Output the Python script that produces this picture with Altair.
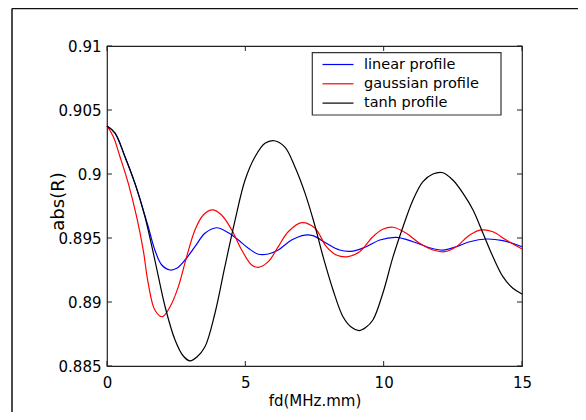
import altair as alt
import pandas as pd

# ---- data ----
tanh_fd = [0, 0.29, 0.65, 1.01, 1.37, 1.73, 2.10, 2.46, 2.75, 3.0, 3.25, 3.54, 3.90, 4.26, 4.63,
           4.99, 5.35, 5.71, 6.05, 6.43, 6.79, 7.16, 7.49, 7.81, 8.17, 8.53, 8.85, 9.11, 9.35,
           9.61, 9.97, 10.34, 10.70, 11.06, 11.42, 11.78, 12.14, 12.50, 12.87, 13.23, 13.59,
           13.95, 14.31, 14.67, 15.0]
tanh_v = [0.90375, 0.9032, 0.90135, 0.89927, 0.89667, 0.89328, 0.88963, 0.88703, 0.8858, 0.8854,
          0.8857, 0.8865, 0.8891, 0.89276, 0.8964, 0.89953, 0.90135, 0.9024, 0.9026, 0.9021,
          0.90057, 0.89849, 0.89615, 0.89354, 0.89094, 0.88885, 0.8880, 0.88776, 0.8880,
          0.88859, 0.89068, 0.89354, 0.89588, 0.89797, 0.8994, 0.9000, 0.9001, 0.89953,
          0.89849, 0.89719, 0.89537, 0.89354, 0.89198, 0.89107, 0.89063]

lin_fd = [0, 0.29, 0.65, 1.01, 1.13, 1.49, 1.73, 1.98, 2.28, 2.52, 2.82, 3.18, 3.54, 3.96, 4.39,
          4.75, 5.11, 5.47, 5.83, 6.19, 6.67, 7.16, 7.44, 7.93, 8.41, 8.89, 9.37, 9.86, 10.46,
          11.06, 11.66, 12.14, 12.62, 13.11, 13.71, 14.31, 15.0]
lin_v = [0.90375, 0.9032, 0.90135, 0.89927, 0.89849, 0.89588, 0.89406, 0.89289, 0.8925, 0.89263,
         0.89328, 0.89432, 0.89537, 0.8958, 0.89541, 0.89484, 0.8942, 0.89373, 0.89375, 0.89406,
         0.89484, 0.89523, 0.89518, 0.89459, 0.89406, 0.89398, 0.89432, 0.89484, 0.89505,
         0.89471, 0.89424, 0.89406, 0.89432, 0.89471, 0.89492, 0.89479, 0.89432]

gau_fd = [0, 0.23, 0.47, 0.77, 1.07, 1.31, 1.49, 1.73, 2.0, 2.28, 2.58, 2.88, 3.18, 3.48, 3.81,
          4.14, 4.51, 4.87, 5.23, 5.47, 5.83, 6.19, 6.55, 7.04, 7.52, 7.93, 8.29, 8.71, 9.13,
          9.61, 9.97, 10.34, 10.82, 11.30, 11.78, 12.2, 12.62, 13.11, 13.53, 13.95, 14.43, 15.0]
gau_v = [0.90375, 0.90291, 0.90135, 0.89927, 0.89667, 0.89406, 0.89146, 0.88938, 0.88885,
         0.88963, 0.8912, 0.89354, 0.89563, 0.8968, 0.89719, 0.8968, 0.89563, 0.89406, 0.89289,
         0.89271, 0.89315, 0.89432, 0.89549, 0.8962, 0.89576, 0.89432, 0.89367, 0.89354,
         0.89393, 0.8951, 0.89568, 0.89584, 0.89537, 0.89459, 0.89406, 0.89393, 0.89432,
         0.89523, 0.89563, 0.89549, 0.89484, 0.89414]

series_names = ["linear profile", "gaussian profile", "tanh profile"]
series_colors = ["#0000ff", "#ff0000", "#000000"]
x_ticks = [0, 5, 10, 15]
y_ticks = [0.885, 0.89, 0.895, 0.9, 0.905, 0.91]

W, H = 415, 320
FONT = "DejaVu Sans"

rows = []
for name, xs, ys in [("linear profile", lin_fd, lin_v),
                     ("gaussian profile", gau_fd, gau_v),
                     ("tanh profile", tanh_fd, tanh_v)]:
    for i, (a, b) in enumerate(zip(xs, ys)):
        rows.append({"fd": a, "v": b, "series": name, "order": i})
df = pd.DataFrame(rows)
xt = pd.DataFrame({"fd": x_ticks})
yt = pd.DataFrame({"v": y_ticks})

xscale = alt.Scale(domain=[0, 15], nice=False, zero=False)
yscale = alt.Scale(domain=[0.885, 0.91], nice=False, zero=False)

xaxis = alt.Axis(values=x_ticks, title="fd(MHz.mm)", ticks=False, domain=False,
                 grid=False, labelPadding=9, labelFlush=False, labelFont=FONT,
                 labelFontSize=15, labelColor="#000", titleFont=FONT, titleFontSize=15,
                 titleFontWeight="normal", titleColor="#000", titleY=27,
                 titleBaseline="top")
yaxis = alt.Axis(values=y_ticks, format="~g", title="abs(R)", ticks=False,
                 domain=False, grid=False, labelPadding=6, labelFlush=False, labelFont=FONT,
                 labelFontSize=15, labelColor="#000", titleFont=FONT,
                 titleFontSize=18, titleFontWeight="normal", titleColor="#000",
                 titleX=-40, titleY=155)

lines = alt.Chart(df).mark_line(strokeWidth=1.2, interpolate="catmull-rom").encode(
    x=alt.X("fd:Q", scale=xscale, axis=xaxis),
    y=alt.Y("v:Q", scale=yscale, axis=yaxis),
    color=alt.Color("series:N",
                    scale=alt.Scale(domain=series_names, range=series_colors),
                    legend=alt.Legend(title=None, orient="none", legendX=222.5, legendY=10,
                                      symbolType="M-2,0L2,0", symbolSize=240,
                                      symbolStrokeWidth=1.2, labelFont=FONT,
                                      labelFontSize=14.5, labelColor="#000", labelOffset=17.5,
                                      rowPadding=4.3, padding=0)),
    order="order:Q",
)

xt_bottom = alt.Chart(xt).mark_rule(color="#222").encode(
    x=alt.X("fd:Q", scale=xscale, axis=xaxis), y=alt.value(H), y2=alt.value(H - 5))
xt_top = alt.Chart(xt).mark_rule(color="#222").encode(
    x=alt.X("fd:Q", scale=xscale, axis=xaxis), y=alt.value(0), y2=alt.value(5))
yt_left = alt.Chart(yt).mark_rule(color="#222").encode(
    y=alt.Y("v:Q", scale=yscale, axis=yaxis), x=alt.value(0), x2=alt.value(5))
yt_right = alt.Chart(yt).mark_rule(color="#222").encode(
    y=alt.Y("v:Q", scale=yscale, axis=yaxis), x=alt.value(W), x2=alt.value(W - 5))

legend_box = alt.Chart(pd.DataFrame({"a": [0]})).mark_rect(
    fill="white", stroke="#333", strokeWidth=1.2).encode(
    x=alt.value(205.3), x2=alt.value(394), y=alt.value(6.7), y2=alt.value(69))

# outer figure frame: only its top and left edges fall inside the picture
frame_top = alt.Chart(pd.DataFrame({"a": [0]})).mark_rule(
    color="#111", strokeWidth=1.5).encode(
    x=alt.value(-95), x2=alt.value(490), y=alt.value(-37.5))
frame_left = alt.Chart(pd.DataFrame({"a": [0]})).mark_rule(
    color="#111", strokeWidth=1.5).encode(
    x=alt.value(-95), y=alt.value(-37.5), y2=alt.value(380))

chart = alt.layer(lines, frame_top, frame_left, xt_bottom, xt_top, yt_left, yt_right,
                  legend_box).properties(
    width=W, height=H,
    autosize=alt.AutoSizeParams(type="none"),
    padding={"left": 99, "top": 38, "right": 56, "bottom": 46},
).configure(background="white", view=alt.ViewConfig(stroke="#222", strokeWidth=1.2))

chart.save("out.html", embed_options={"renderer": "svg", "actions": False})
